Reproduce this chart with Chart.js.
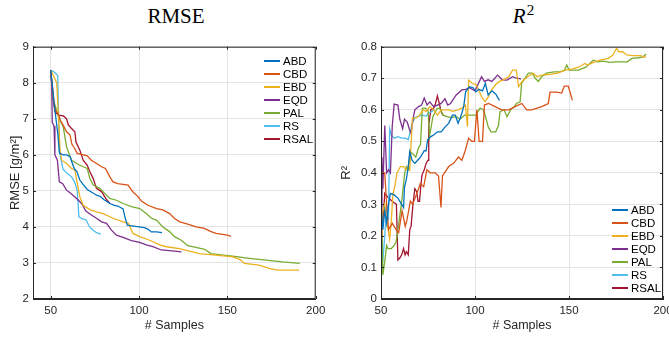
<!DOCTYPE html>
<html>
<head>
<meta charset="utf-8">
<script src="https://cdn.jsdelivr.net/npm/chart.js@4.4.0/dist/chart.umd.min.js"></script>
<style>
  body { margin: 0; background: #fff; width: 669px; height: 337px; overflow: hidden; position: relative;
         font-family: "Liberation Sans", Arial, sans-serif; }
  .plot { position: absolute; top: 0; height: 337px; }
  .title { position: absolute; top: 4px; line-height: 24px; font-family: "Liberation Serif", "Times New Roman", serif;
           font-size: 21px; color: #000; transform: translateX(-50%); white-space: nowrap; }
  .legend { position: absolute; font-size: 11.5px; color: #000; }
  .legend .row { display: flex; align-items: center; height: 13px; }
  .legend .swatch { display: inline-block; width: 16px; height: 2px; margin-right: 3px; }
</style>
</head>
<body>
<div class="title" style="left:176px">RMSE</div>
<div class="title" style="left:523px"><i>R</i><span style="font-size:15px;position:relative;top:-8px;left:1px">2</span></div>

<div class="plot" style="left:0;width:335px"><canvas id="rmseChart"></canvas></div>
<div class="plot" style="left:335px;width:350px"><canvas id="r2Chart"></canvas></div>
<div class="legend" id="rmseLegend" style="left:264px;top:54px"></div>
<div class="legend" id="r2Legend" style="left:612px;top:203px"></div>

<script>
// methods and colours (MATLAB default order)
const methods = ['ABD', 'CBD', 'EBD', 'EQD', 'PAL', 'RS', 'RSAL'];
const colors = ['#0072BD', '#D95319', '#EDB120', '#7E2F8E', '#77AC30', '#4DBEEE', '#A2142F'];

// tick labels
const xTicks = [50, 100, 150, 200];
const rmseTicks = [2, 3, 4, 5, 6, 7, 8, 9];
const r2Ticks = [0, 0.1, 0.2, 0.3, 0.4, 0.5, 0.6, 0.7, 0.8];

// RMSE [g/m2] vs # samples, [samples, value]
const rmseABD = [[50,8.35],[51,7.9],[52,7.4],[53,7.0],[54,6.6],[55,6.05],[57,6.0],[59,6.0],[61,5.95],[62,5.8],[63.5,5.6],
  [64.7,5.55],[66.5,5.3],[68,5.2],[70.7,5.04],[73,4.97],[76,4.88],[78,4.85],[80,4.76],[82,4.7],[83.5,4.65],[86,4.6],
  [88,4.58],[91,4.5],[92,4.28],[93.4,4.05],[96,4.03],[100,4.0],[103,3.98],[105,3.94],[107,3.86],[110,3.86],[113,3.84]];
const rmseCBD = [[50,8.35],[51,7.9],[52,7.4],[53,7.2],[54.3,7.15],[55.5,6.95],[57,6.83],[59,6.64],[61,6.55],[62,6.3],
  [63.7,6.17],[65,6.04],[68.4,6.0],[70.7,5.97],[73,5.85],[76,5.76],[78.8,5.67],[81,5.62],[83.5,5.39],[85.3,5.25],
  [88,5.2],[93.8,5.16],[96.6,4.97],[99.4,4.84],[101.3,4.72],[105,4.6],[110,4.51],[113.5,4.47],[117.3,4.37],[120,4.24],
  [123,4.14],[127.6,4.08],[132.3,4.0],[137,3.96],[140.8,3.87],[143.6,3.82],[150,3.77],[152,3.74]];
const rmseEBD = [[50,8.35],[51.5,8.2],[53.4,8.0],[54.5,7.0],[55.3,6.13],[56.2,5.85],[59,5.76],[61.8,5.62],[63.7,5.58],
  [64.7,5.3],[66.5,4.84],[68.4,4.6],[72.2,4.48],[75.9,4.42],[79.7,4.37],[85.3,4.24],[91,4.14],[94,4.1],[96.6,3.82],
  [100.4,3.73],[106,3.63],[111.7,3.5],[115.4,3.45],[122.9,3.4],[134.2,3.26],[143.6,3.22],[153,3.17],[157,3.1],
  [159.6,2.99],[168,2.94],[173.7,2.85],[178.4,2.8],[190.6,2.8]];
const rmseEQD = [[50,8.35],[50.6,7.9],[50.9,6.9],[51.9,6.8],[52.4,6.0],[53.8,5.85],[54.9,5.25],[56.8,5.2],[59,5.02],
  [61.8,4.91],[64.7,4.79],[67.5,4.65],[69.9,4.44],[73.1,4.33],[75.9,4.24],[78.8,4.14],[81.6,4.1],[84.4,3.91],[87.2,3.77],
  [91,3.71],[95.7,3.62],[100.4,3.57],[104.1,3.5],[107.9,3.45],[112.6,3.36],[117.3,3.34],[124,3.31]];
const rmsePAL = [[50,8.35],[51.5,7.52],[53.4,7.24],[55.3,6.96],[57.1,6.78],[59,6.22],[61.8,5.85],[64.7,5.76],[68.4,5.67],
  [70.7,5.62],[72.2,5.34],[74.1,5.16],[77.8,5.07],[80.6,4.93],[83.5,4.79],[87.2,4.74],[91,4.65],[95.7,4.56],[100.4,4.51],
  [104.1,4.37],[107,4.24],[109.8,4.19],[113.5,4.0],[117.3,3.87],[120.1,3.73],[123.9,3.63],[127.6,3.48],[132.3,3.43],
  [137,3.38],[140.8,3.26],[147.4,3.22],[153,3.19],[162.4,3.13],[171.8,3.08],[181.2,3.03],[191,2.99]];
const rmseRS = [[50,8.35],[52,8.3],[54,8.2],[54.9,6.1],[55.7,5.9],[57,5.6],[59,5.5],[61.8,5.39],[63.5,5.25],[65,5.02],
  [66,4.28],[68,4.22],[70,4.2],[72,4.0],[74,3.91],[76,3.84],[78.4,3.8]];
const rmseRSAL = [[50,8.35],[51.5,7.5],[52.4,7.2],[54.3,7.1],[57.2,7.08],[59,7.0],[60,6.83],[61.8,6.73],[63.7,6.64],
  [64.3,6.36],[66.5,6.13],[68.4,5.85],[70.7,5.71],[72.2,5.53],[74.1,5.34],[75.9,5.07],[78.8,4.98],[81.6,4.76],[83.5,4.65]];

// R2 vs # samples, [samples, value]
const r2ABD = [[50,0.3],[51,0.22],[52,0.28],[53,0.24],[54,0.3],[55,0.335],[57,0.33],[59,0.32],[61,0.3],[62,0.29],
  [62.5,0.355],[63.5,0.38],[64.5,0.42],[65.3,0.467],[66.5,0.44],[68,0.43],[69.5,0.44],[71,0.45],[73,0.47],[74,0.47],
  [74.8,0.505],[76.5,0.515],[78,0.52],[80,0.53],[82,0.53],[84,0.545],[86,0.557],[88,0.583],[89.5,0.583],[91,0.557],
  [92.5,0.58],[94,0.61],[95,0.657],[97,0.673],[99,0.67],[100.5,0.657],[102,0.665],[104,0.66],[105.5,0.684],[107,0.647],
  [109,0.66],[111,0.65],[113,0.63]];
const r2CBD = [[50,0.4],[52,0.4],[53,0.3],[54,0.22],[56,0.24],[58,0.22],[59.4,0.21],[61.2,0.28],[62.9,0.23],[63.8,0.25],
  [65.6,0.31],[66.8,0.3],[69.1,0.335],[70.9,0.366],[72.7,0.356],[74.4,0.41],[76.2,0.4],[78.8,0.4],[80.6,0.39],[81.9,0.29],
  [82.7,0.39],[86,0.42],[88.6,0.43],[91.2,0.45],[93,0.44],[94.8,0.47],[96.6,0.51],[98.3,0.5],[99.7,0.5],[101,0.6],
  [102.2,0.5],[104,0.5],[105,0.615],[107.2,0.62],[110.7,0.61],[114.2,0.6],[117.8,0.6],[121.3,0.61],[124.9,0.62],
  [127.5,0.6],[130.2,0.6],[135.5,0.61],[139,0.62],[139.9,0.656],[143.5,0.656],[146.1,0.653],[147.5,0.675],[149.6,0.675],
  [151.8,0.63]];
const r2EBD = [[50,0.2],[50.5,0.23],[51,0.28],[52,0.3],[53,0.25],[54.6,0.19],[55.5,0.25],[56.3,0.33],[57.3,0.356],
  [58.5,0.4],[60.3,0.42],[62,0.42],[63.3,0.41],[64.5,0.42],[65.3,0.41],[66.7,0.573],[69,0.575],[70.5,0.583],[72.3,0.6],
  [74,0.595],[76,0.61],[78,0.6],[80,0.583],[82,0.6],[84,0.6],[86,0.6],[88,0.595],[91,0.6],[93,0.605],[94.9,0.615],
  [96,0.546],[96.6,0.694],[98.5,0.684],[100.5,0.68],[102,0.663],[103.6,0.64],[105.3,0.626],[107,0.64],[108.5,0.66],
  [111,0.68],[113,0.69],[115,0.695],[118,0.705],[120,0.726],[122,0.726],[123.2,0.673],[125,0.69],[128,0.705],[131,0.716],
  [133,0.705],[135.5,0.71],[140,0.712],[144,0.716],[148,0.726],[152,0.73],[155,0.735],[158.5,0.747],[160,0.742],
  [163,0.75],[167,0.758],[171,0.763],[173.4,0.774],[175.3,0.795],[176.5,0.784],[178.5,0.784],[180.7,0.774],[184,0.772],
  [188,0.772],[191,0.766]];
const r2EQD = [[50,0.22],[50.5,0.45],[51,0.35],[52,0.55],[53,0.4],[54,0.41],[55,0.4],[56,0.55],[57,0.618],[59,0.615],
  [60,0.57],[61.5,0.54],[62.5,0.57],[64,0.56],[65,0.54],[66,0.525],[67,0.57],[68,0.6],[70,0.61],[71.6,0.615],[73,0.637],
  [74.5,0.615],[76,0.625],[78,0.61],[80,0.615],[82,0.62],[84,0.635],[85.5,0.615],[87,0.62],[90,0.647],[93,0.663],
  [95,0.665],[97,0.67],[100,0.66],[103.5,0.705],[105,0.69],[107,0.695],[109,0.69],[112,0.71],[114.5,0.695],[117,0.694],
  [120,0.705],[122,0.7],[124.5,0.698]];
const r2PAL = [[50,0.13],[50.5,0.2],[51,0.076],[52,0.12],[53,0.17],[53.7,0.16],[55.5,0.16],[57,0.17],[58,0.18],[59,0.22],
  [60.6,0.29],[61.5,0.336],[62.6,0.4],[63.5,0.42],[64.5,0.41],[65.5,0.467],[67,0.46],[68.5,0.45],[70,0.48],[71,0.49],
  [72,0.605],[73.5,0.605],[75,0.6],[75.8,0.515],[77.6,0.578],[79.8,0.604],[81.2,0.605],[83,0.583],[85,0.578],[87.5,0.575],
  [90,0.578],[92,0.57],[94.5,0.583],[97.3,0.583],[100.5,0.583],[102.7,0.605],[104.5,0.6],[106,0.57],[107,0.546],
  [108.5,0.53],[111,0.53],[112.5,0.55],[113.3,0.594],[115.5,0.6],[117,0.578],[119,0.6],[121,0.61],[122,0.62],[124,0.625],
  [124.8,0.684],[126.5,0.7],[128.4,0.716],[130.5,0.716],[132,0.7],[133.7,0.69],[135.5,0.705],[138,0.716],[142,0.72],
  [145,0.72],[147.5,0.725],[148.8,0.742],[150,0.726],[155,0.726],[159,0.735],[163,0.758],[165,0.752],[168,0.754],
  [171.8,0.75],[175,0.752],[179,0.752],[181,0.752],[183.4,0.763],[187,0.765],[189.5,0.768],[191,0.777]];
const r2RS = [[50,0.12],[51,0.12],[52,0.2],[53,0.3],[54,0.25],[54.6,0.54],[55.5,0.52],[57,0.51],[59,0.515],[61,0.51],
  [63,0.51],[64.5,0.505],[65.5,0.53],[66.5,0.555],[68,0.575],[70,0.58],[72,0.583],[74,0.58],[75.5,0.59],[77,0.594],[78,0.6]];
const r2RSAL = [[50,0.12],[50.5,0.28],[51,0.24],[52,0.335],[54,0.32],[56,0.31],[57,0.305],[58.2,0.3],[59,0.124],[60,0.13],
  [61,0.14],[62,0.16],[62.8,0.14],[63.5,0.15],[64.5,0.14],[65.3,0.22],[66,0.23],[67,0.3],[68,0.35],[69,0.34],[69.7,0.31],
  [70.5,0.31],[71.2,0.36],[71.8,0.393],[73,0.41],[74,0.43],[75,0.44],[75.4,0.552],[76.5,0.6],[78,0.605],[79,0.62],
  [80,0.644],[81,0.62],[82,0.594],[83,0.583]];

const rmseSeries = [rmseABD, rmseCBD, rmseEBD, rmseEQD, rmsePAL, rmseRS, rmseRSAL];
const r2Series = [r2ABD, r2CBD, r2EBD, r2EQD, r2PAL, r2RS, r2RSAL];

const axisColor = '#262626';
const gridColor = '#e3e3e3';

// draws the full axes box plus MATLAB-style inward ticks
const boxPlugin = {
  id: 'box',
  afterDraw(chart) {
    const {ctx, chartArea: a, scales} = chart;
    ctx.save();
    ctx.strokeStyle = axisColor;
    ctx.lineWidth = 1;
    ctx.strokeRect(a.left + 0.5, a.top + 0.5, a.right - a.left - 1, a.bottom - a.top - 1);
    ctx.beginPath();
    scales.x.ticks.forEach(t => {
      const px = Math.round(scales.x.getPixelForValue(t.value)) + 0.5;
      ctx.moveTo(px, a.bottom); ctx.lineTo(px, a.bottom - 3);
      ctx.moveTo(px, a.top); ctx.lineTo(px, a.top + 3);
    });
    scales.y.ticks.forEach(t => {
      const py = Math.round(scales.y.getPixelForValue(t.value)) + 0.5;
      ctx.moveTo(a.left, py); ctx.lineTo(a.left + 3, py);
      ctx.moveTo(a.right, py); ctx.lineTo(a.right - 3, py);
    });
    ctx.stroke();
    ctx.restore();
  }
};

function makeChart(id, series, opts) {
  const datasets = series.map((s, i) => ({
    label: methods[i],
    data: s.map(p => ({x: p[0], y: p[1]})),
    borderColor: colors[i],
    borderWidth: 1.3,
    pointRadius: 0,
    tension: 0,
    fill: false
  }));
  return new Chart(document.getElementById(id), {
    type: 'line',
    data: {datasets},
    options: {
      responsive: true,
      maintainAspectRatio: false,
      animation: false,
      layout: {padding: {left: 0, right: opts.padRight, top: 46.7, bottom: 0}},
      plugins: {legend: {display: false}, tooltip: {enabled: false}},
      scales: {
        x: {
          type: 'linear',
          min: opts.xMin, max: 200,
          afterBuildTicks: s => { s.ticks = xTicks.map(v => ({value: v})); },
          afterFit: s => { s.height = 38; },
          grid: {color: gridColor, drawTicks: false},
          border: {color: axisColor},
          ticks: {color: axisColor, font: {size: 11.5}, padding: 5, maxRotation: 0},
          title: {display: true, text: '# Samples', color: axisColor, font: {size: 12.5}, padding: {top: 0, bottom: 4}}
        },
        y: {
          min: opts.yTicks[0], max: opts.yTicks[opts.yTicks.length - 1],
          afterBuildTicks: s => { s.ticks = opts.yTicks.map(v => ({value: v})); },
          afterFit: s => { s.width = opts.yWidth; },
          grid: {color: gridColor, drawTicks: false},
          border: {color: axisColor},
          ticks: {color: axisColor, font: {size: 11.5}, padding: 4},
          title: {display: true, text: opts.yTitle, color: axisColor, font: {size: 13}, padding: {top: opts.yTitlePad, bottom: 0}}
        }
      }
    },
    plugins: [boxPlugin]
  });
}

function makeLegend(id) {
  const el = document.getElementById(id);
  methods.forEach((m, i) => {
    const row = document.createElement('div');
    row.className = 'row';
    row.innerHTML = '<span class="swatch" style="background:' + colors[i] + '"></span>' + m;
    el.appendChild(row);
  });
}

Chart.defaults.font.family = '"Liberation Sans", Arial, sans-serif';

makeChart('rmseChart', rmseSeries, {xMin: 40, yTicks: rmseTicks, yWidth: 33, padRight: 19.3, yTitle: 'RMSE [g/m²]', yTitlePad: 8});
makeChart('r2Chart', r2Series, {xMin: 50, yTicks: r2Ticks, yWidth: 46, padRight: 22, yTitle: 'R²', yTitlePad: 4});
makeLegend('rmseLegend');
makeLegend('r2Legend');
</script>
</body>
</html>
